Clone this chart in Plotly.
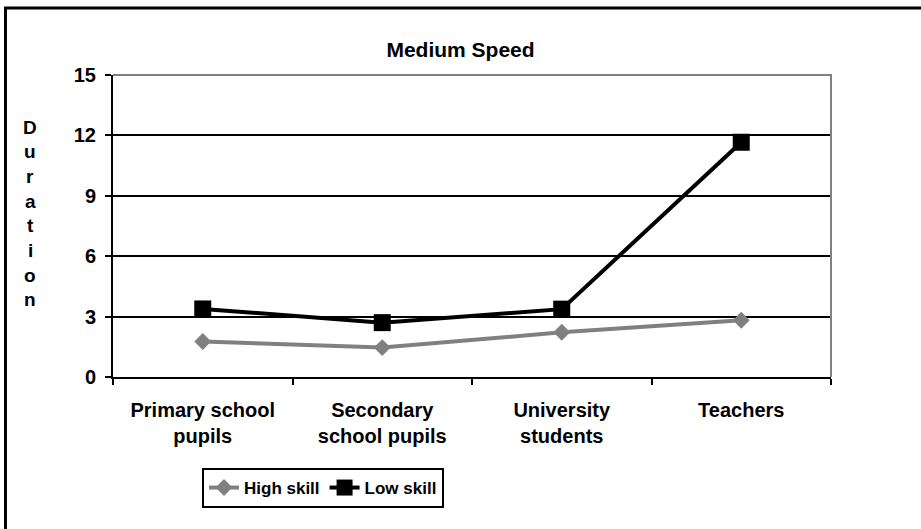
import plotly.graph_objects as go

# Data
categories = ["Primary school<br>pupils", "Secondary<br>school pupils", "University<br>students", "Teachers"]
high_skill = [1.76, 1.46, 2.22, 2.82]
low_skill = [3.38, 2.70, 3.37, 11.66]
y_ticks = [0, 3, 6, 9, 12, 15]
title_text = "Medium Speed"
y_title = "Duration"
series_names = ["High skill", "Low skill"]

FONT = "Liberation Sans, Arial, sans-serif"
W, H = 921, 529
L, R, T, B = 113, 90, 75, 152
pw, ph = W - L - R, H - T - B

fig = go.Figure()
fig.add_trace(go.Scatter(
    x=categories, y=high_skill, name="<b>%s</b>" % series_names[0], mode="lines+markers",
    line=dict(color="#808080", width=4),
    marker=dict(symbol="diamond", size=13, color="#808080"),
))
fig.add_trace(go.Scatter(
    x=categories, y=low_skill, name="<b>%s</b>" % series_names[1], mode="lines+markers",
    line=dict(color="#000000", width=4),
    marker=dict(symbol="square", size=17, color="#000000"),
))

fig.update_layout(
    width=W, height=H,
    margin=dict(l=L, r=R, t=T, b=B, pad=0),
    paper_bgcolor="white", plot_bgcolor="white",
    font=dict(family=FONT, color="black", size=18),
    title=dict(text="<b>%s</b>" % title_text, x=0.5, xref="container", xanchor="center",
               y=1 - 50 / H, yref="container", yanchor="middle",
               font=dict(size=21, family=FONT)),
    showlegend=True,
    legend=dict(orientation="h", x=(202 - L) / pw, xanchor="left",
                y=(H - B - 468) / ph, yanchor="top",
                bordercolor="black", borderwidth=2,
                font=dict(size=17, family=FONT), itemwidth=30,
                tracegroupgap=0),
)

fig.update_xaxes(
    type="category", range=[-0.5, 3.5], tickson="boundaries",
    ticks="outside", ticklen=6, tickwidth=2, tickcolor="black",
    showline=True, linecolor="black", linewidth=2,
    showgrid=False, zeroline=False,
    tickfont=dict(size=20, family=FONT),
    ticklabelstandoff=14,
)
fig.update_xaxes(ticktext=["<b>%s</b>" % c for c in categories], tickvals=categories)

fig.update_yaxes(
    range=[0, 15], tickvals=y_ticks, ticktext=["<b>%d</b>" % v for v in y_ticks],
    ticks="outside", ticklen=6, tickwidth=2, tickcolor="black",
    showline=True, linecolor="black", linewidth=2,
    showgrid=True, gridcolor="black", gridwidth=2, zeroline=False,
    tickfont=dict(size=20, family=FONT),
    ticklabelstandoff=5,
)

# grey plot-area border on the top and right edges
fig.add_shape(type="path", xref="paper", yref="paper",
              path="M 0 1 L 1 1 L 1 0", line=dict(color="#808080", width=2),
              layer="above")

# outer frame: left and top edges of the chart box
fx = (5.5 - L) / pw
fy = (H - B - 8) / ph
fig.add_shape(type="path", xref="paper", yref="paper",
              path="M %f %f L %f %f L %f %f" % (fx, -(B + 5) / ph, fx, fy, (W + 5 - L) / pw, fy),
              line=dict(color="black", width=3))

# vertical, letter-stacked axis title
y_top, step = 127, 24.7
for i, ch in enumerate(y_title):
    fig.add_annotation(text="<b>%s</b>" % ch, xref="paper", yref="paper",
                       x=(30 - L) / pw, y=(H - B - (y_top + i * step)) / ph,
                       xanchor="center", yanchor="middle", showarrow=False,
                       font=dict(size=19, family=FONT))

fig.write_html("out.html")
